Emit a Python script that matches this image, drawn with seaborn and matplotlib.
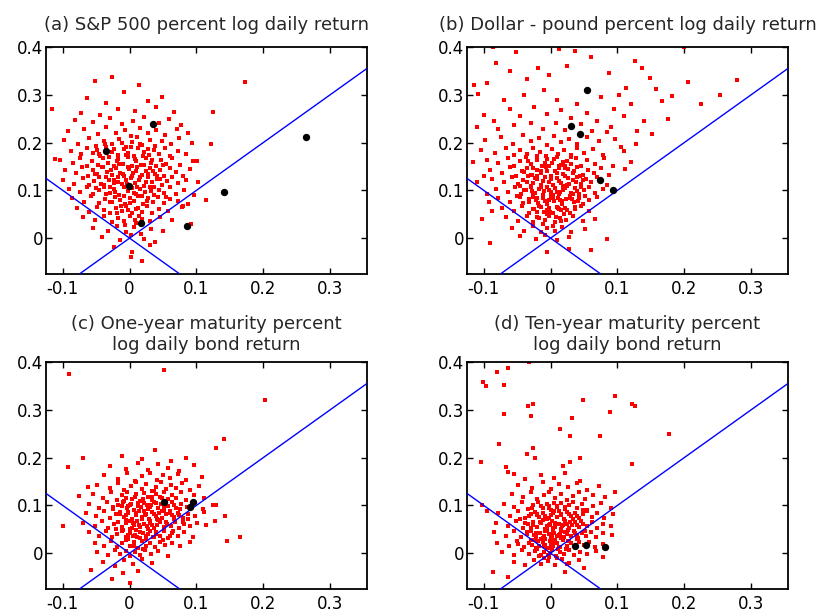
import matplotlib
matplotlib.use("Agg")
import matplotlib.pyplot as plt
import seaborn as sns

# axis setup (shared by all four panels)
x_range = (-0.125, 0.355)
y_range = (-0.075, 0.4)
x_ticks = [-0.1, 0, 0.1, 0.2, 0.3]
x_tick_labels = ["-0.1", "0", "0.1", "0.2", "0.3"]
y_ticks = [0, 0.1, 0.2, 0.3, 0.4]
y_tick_labels = ["0", "0.1", "0.2", "0.3", "0.4"]
guide_slopes = [1, -1]

panel_titles = [
    "(a) S&P 500 percent log daily return",
    "(b) Dollar - pound percent log daily return",
    "(c) One-year maturity percent\nlog daily bond return",
    "(d) Ten-year maturity percent\nlog daily bond return",
]

# highlighted points, in thousandths (x, y)
black_a = [(-35, 183), (35, 239), (-1, 110), (17, 31), (86, 26), (141, 96), (264, 212)]
black_b = [(54, 310), (31, 235), (44, 218), (74, 121), (93, 100)]
black_c = [(51, 107), (95, 108), (90, 97)]
black_d = [(37, 15), (53, 17), (81, 12)]

# red clouds, in thousandths (x, y)
cloud_a = [
    (-26, 338), (-51, 329), (14, 321), (-8, 305),
    (-63, 293), (27, 287), (-35, 282), (48, 296),
    (-72, 262), (-18, 271), (8, 266), (39, 275), (-44, 258), (66, 263),
    (-81, 248), (-55, 243), (-30, 251), (-12, 239), (5, 246), (21, 254), (44, 241), (59, 249), (77, 236),
    (-92, 224), (-68, 229), (-47, 218), (-36, 233), (-21, 221), (-7, 227), (2, 214), (15, 231), (28, 219),
    (40, 226), (53, 216), (71, 228), (88, 221),
    (-98, 205), (-77, 198), (-61, 210), (-50, 193), (-39, 203), (-27, 196), (-16, 208), (-6, 191), (3, 201),
    (11, 212), (19, 195), (30, 206), (38, 192), (49, 203), (62, 197), (74, 209), (93, 200),
    (-88, 183), (-72, 176), (-63, 188), (-54, 179), (-44, 172), (-35, 190), (-26, 181), (-18, 174), (-9, 186),
    (-2, 178), (6, 171), (13, 188), (21, 180), (29, 173), (36, 185), (44, 177), (53, 189), (61, 172), (72, 182),
    (85, 176),
    (-104, 163), (-85, 157), (-74, 168), (-64, 151), (-56, 162), (-47, 154), (-40, 167), (-32, 158), (-24, 151),
    (-17, 165), (-10, 156), (-3, 169), (4, 152), (10, 161), (17, 154), (25, 167), (32, 158), (40, 151), (47, 164),
    (55, 156), (64, 168), (76, 153), (95, 161),
    (-96, 143), (-80, 137), (-71, 148), (-62, 131), (-55, 142), (-48, 135), (-41, 149), (-34, 139), (-27, 132),
    (-20, 146), (-14, 137), (-8, 130), (-1, 144), (5, 136), (11, 149), (18, 133), (24, 141), (31, 147), (38, 134),
    (45, 143), (52, 131), (60, 146), (69, 138), (80, 131), (91, 145),
    (-99, 121), (-83, 114), (-70, 125), (-61, 112), (-53, 119), (-45, 127), (-38, 111), (-31, 122), (-24, 116),
    (-18, 128), (-11, 113), (-5, 121), (2, 126), (8, 115), (14, 122), (21, 110), (27, 127), (34, 118), (41, 124),
    (48, 112), (56, 120), (64, 128), (73, 115), (84, 122), (102, 118),
    (-90, 103), (-74, 96), (-63, 108), (-54, 92), (-46, 101), (-38, 106), (-30, 94), (-23, 103), (-16, 91),
    (-9, 107), (-3, 98), (4, 105), (10, 93), (16, 102), (23, 96), (30, 108), (37, 91), (44, 100), (52, 95),
    (60, 106), (70, 92), (82, 101), (96, 90),
    (-86, 84), (-68, 76), (-57, 88), (-46, 73), (-37, 82), (-29, 75), (-22, 87), (-14, 79), (-7, 71), (0, 85),
    (7, 77), (13, 89), (20, 72), (27, 83), (35, 76), (42, 86), (51, 74), (60, 82), (72, 78), (88, 71),
    (-78, 63), (-60, 55), (-48, 66), (-38, 58), (-29, 52), (-21, 64), (-12, 57), (-5, 68), (3, 53), (10, 61),
    (18, 55), (26, 67), (34, 52), (44, 62), (57, 56), (78, 65),
    (-70, 44), (-52, 37), (-39, 46), (-27, 33), (-17, 42), (-8, 36), (1, 47), (9, 32), (19, 41), (30, 35),
    (45, 44), (63, 38),
    (-55, 22), (-33, 15), (-19, 26), (-6, 12), (6, 23), (17, 8), (32, 19), (50, 14),
    (-41, 3), (-14, -4), (2, 6), (22, -2), (38, -8),
    (-24, -18), (4, -28), (31, -15), (2, -39), (19, -48),
    (-116, 270), (-111, 166), (125, 263), (122, 196), (101, 162), (114, 79), (172, 326), (92, 30), (80, 68),
    # denser middle
    (-37, 196), (-24, 187), (-11, 199), (2, 190), (15, 197), (27, 186), (-45, 176), (-31, 169), (-19, 162),
    (-6, 174), (8, 166), (20, 172), (33, 164), (-40, 149), (-28, 143), (-16, 156), (-3, 148), (9, 141),
    (22, 153), (35, 141), (-36, 128), (-23, 122), (-10, 134), (4, 131), (16, 128), (28, 135), (41, 129),
    (-43, 113), (-30, 106), (-18, 118), (-4, 114), (11, 108), (24, 117), (37, 106), (-35, 92), (-22, 97),
    (-9, 88), (6, 95), (19, 88), (32, 99), (-26, 76), (-13, 68), (0, 74), (13, 64), (26, 78), (-19, 52),
    (-2, 58), (14, 46), (-7, 28), (8, 38), (46, 123), (50, 154), (-52, 134), (-50, 104), (55, 86), (-48, 184),
]

cloud_b = [
    (-52, 389), (-82, 366), (-19, 357), (-2, 342), (127, 371), (137, 356), (148, 335), (113, 314), (158, 313),
    (205, 326), (279, 330), (253, 300), (225, 280), (181, 298), (166, 288), (176, 250), (152, 217), (139, 246),
    (128, 198), (200, 399), (-86, 399), (12, 396), (36, 392), (-114, 320), (-108, 302), (-95, 325), (-61, 349),
    (-36, 333), (24, 361), (60, 380), (87, 345), (102, 300), (-70, 290), (-40, 300), (-10, 310), (10, 290),
    (40, 280), (75, 296), (95, 270), (120, 280), (-99, 258), (-85, 245), (-60, 270), (-45, 255), (-25, 275),
    (-5, 260), (15, 268), (30, 252), (55, 262), (70, 245), (90, 232), (110, 255), (-110, 232), (-78, 228),
    (-55, 236), (-30, 240), (-12, 228), (8, 242), (22, 226), (45, 238), (62, 225), (84, 222), (130, 225),
    (105, 190), (120, 160), (112, 145),
    (-98, 205), (-74, 212), (-56, 198), (-42, 216), (-30, 203), (-17, 209), (-6, 195), (5, 214), (16, 201),
    (28, 207), (40, 196), (54, 211), (72, 203), (96, 208),
    (-104, 185), (-83, 178), (-67, 189), (-55, 173), (-45, 184), (-35, 176), (-26, 189), (-16, 180), (-7, 172),
    (2, 187), (11, 177), (20, 185), (30, 174), (39, 188), (50, 179), (63, 186), (78, 175), (110, 182),
    (-95, 164), (-78, 157), (-64, 168), (-54, 152), (-45, 161), (-37, 169), (-29, 155), (-21, 163), (-13, 151),
    (-5, 166), (2, 158), (9, 170), (16, 153), (24, 162), (31, 155), (38, 167), (46, 152), (55, 163), (66, 156),
    (80, 168), (93, 151), (-116, 160),
    (-90, 143), (-72, 136), (-60, 148), (-51, 131), (-43, 140), (-35, 147), (-28, 133), (-21, 142), (-14, 136),
    (-7, 149), (0, 131), (6, 141), (12, 147), (19, 134), (26, 144), (33, 137), (40, 148), (48, 132), (56, 143),
    (65, 136), (76, 147), (88, 133), (-100, 131), (-20, 130), (22, 150),
    (-88, 124), (-70, 117), (-58, 128), (-49, 113), (-41, 121), (-34, 129), (-27, 115), (-20, 124), (-14, 111),
    (-8, 127), (-2, 118), (4, 112), (9, 125), (15, 116), (21, 129), (27, 113), (33, 122), (39, 128), (46, 114),
    (53, 123), (61, 117), (70, 128), (84, 112), (-110, 118), (-30, 110), (0, 129), (18, 110), (44, 130),
    (-82, 103), (-64, 96), (-53, 108), (-44, 92), (-37, 101), (-30, 107), (-23, 94), (-17, 103), (-11, 91),
    (-5, 108), (0, 97), (6, 104), (12, 92), (18, 101), (24, 109), (30, 95), (36, 104), (43, 92), (50, 100),
    (58, 108), (67, 94), (78, 103), (-95, 92), (-10, 99), (14, 97), (-28, 98), (40, 98), (3, 91),
    (-78, 84), (-61, 76), (-50, 88), (-41, 73), (-33, 81), (-26, 87), (-19, 74), (-12, 83), (-6, 71), (0, 88),
    (5, 78), (11, 85), (17, 72), (23, 81), (29, 89), (35, 75), (42, 84), (49, 72), (57, 80), (70, 86),
    (-92, 76), (-3, 80), (14, 79), (-22, 80), (32, 82),
    (-72, 64), (-54, 57), (-43, 68), (-33, 53), (-25, 61), (-17, 67), (-10, 55), (-3, 63), (3, 52), (9, 66),
    (15, 58), (22, 64), (29, 53), (37, 61), (46, 67), (58, 56), (-88, 57), (-6, 58), (12, 61), (-20, 54),
    (-66, 44), (-49, 36), (-36, 46), (-26, 33), (-17, 42), (-9, 37), (-2, 47), (6, 34), (14, 43), (23, 38),
    (33, 46), (48, 35), (-103, 40), (66, 41),
    (-57, 22), (-40, 15), (-27, 25), (-15, 12), (-5, 21), (6, 14), (17, 24), (30, 13), (52, 19),
    (-45, 4), (-22, -2), (-8, 7), (10, -4), (28, 2), (85, -1),
    (-90, -11), (-5, -28), (28, -22), (60, -25),
    # denser middle
    (-34, 162), (-20, 171), (-8, 158), (5, 166), (18, 160), (30, 170), (-40, 138), (-27, 146), (-15, 140),
    (-2, 152), (10, 136), (22, 147), (35, 140), (-36, 118), (-24, 126), (-11, 120), (1, 124), (13, 119),
    (26, 125), (38, 117), (-40, 100), (-27, 94), (-14, 106), (-2, 101), (9, 96), (21, 104), (33, 92),
    (46, 106), (-33, 76), (-20, 84), (-8, 78), (4, 84), (17, 77), (29, 84), (41, 77), (-27, 60), (-14, 66),
    (-1, 55), (11, 63), (24, 59), (37, 66), (-20, 44), (-6, 50), (8, 45), (20, 50), (-11, 30), (4, 26),
    (16, 35), (-30, 132), (48, 122), (52, 88), (-46, 110), (-45, 86), (25, 112), (-5, 140), (12, 150),
]

cloud_c = [
    (-12, 204), (18, 198), (38, 215), (62, 193), (84, 200),
    (-30, 183), (-5, 177), (12, 189), (28, 175), (43, 186), (58, 179), (74, 172), (96, 184),
    (-38, 163), (-18, 156), (-4, 168), (8, 152), (19, 161), (30, 167), (41, 154), (50, 163), (61, 158),
    (72, 166), (85, 153), (108, 160),
    (-48, 143), (-30, 136), (-18, 147), (-8, 132), (2, 141), (10, 148), (18, 135), (25, 144), (33, 131),
    (40, 139), (47, 148), (54, 134), (62, 142), (70, 136), (79, 147), (90, 133), (104, 141), (-62, 138),
    (-55, 124), (-40, 115), (-28, 127), (-19, 112), (-11, 121), (-4, 128), (3, 114), (9, 123), (15, 110),
    (21, 126), (27, 117), (33, 111), (39, 124), (45, 118), (51, 129), (57, 113), (63, 122), (70, 115),
    (77, 127), (85, 112), (96, 121), (112, 116), (-8, 110), (36, 130),
    (-60, 103), (-45, 95), (-34, 107), (-25, 92), (-17, 101), (-10, 108), (-4, 94), (2, 103), (7, 91),
    (12, 106), (17, 97), (22, 104), (27, 92), (32, 100), (37, 108), (42, 95), (47, 103), (52, 91), (58, 99),
    (64, 107), (70, 94), (77, 102), (86, 96), (97, 108), (110, 93), (125, 101), (-3, 99), (30, 96),
    (-65, 84), (-50, 77), (-38, 88), (-29, 73), (-21, 82), (-14, 87), (-8, 75), (-2, 84), (4, 71), (9, 80),
    (14, 88), (19, 76), (24, 83), (29, 72), (34, 86), (39, 78), (44, 84), (49, 73), (54, 81), (60, 88),
    (66, 76), (72, 84), (80, 73), (88, 82), (98, 77), (112, 86), (-6, 79), (21, 89), (41, 71), (63, 80),
    (-70, 63), (-52, 57), (-41, 68), (-32, 53), (-24, 61), (-17, 66), (-11, 55), (-5, 63), (1, 51), (6, 59),
    (11, 67), (16, 54), (21, 62), (26, 56), (31, 68), (36, 52), (41, 60), (46, 65), (51, 54), (56, 62),
    (62, 57), (68, 66), (74, 53), (82, 61), (90, 56), (101, 64), (115, 58), (14, 60), (33, 58), (-1, 68),
    (-60, 44), (-45, 36), (-35, 47), (-26, 33), (-19, 41), (-12, 46), (-6, 34), (0, 43), (5, 37), (10, 48),
    (15, 31), (20, 42), (25, 36), (30, 46), (35, 33), (40, 41), (46, 37), (52, 47), (58, 32), (64, 42),
    (72, 36), (82, 45), (95, 34), (8, 39), (27, 40), (-3, 38),
    (-52, 22), (-38, 15), (-28, 26), (-19, 12), (-12, 21), (-5, 27), (1, 14), (7, 23), (13, 11), (19, 25),
    (25, 16), (31, 22), (38, 13), (45, 24), (53, 17), (63, 21), (76, 14), (90, 23),
    (-48, 3), (-33, -4), (-22, 7), (-14, -2), (-6, 5), (1, -6), (8, 3), (15, -3), (23, 6), (32, -1),
    (42, 4), (58, -5),
    (-40, -18), (-22, -26), (-8, -14), (5, -22), (18, -12), (34, -20),
    (-27, -55), (0, -62), (-10, -42), (12, -38),
    (-90, 375), (51, 383), (203, 321), (141, 238), (130, 221), (-92, 180), (-69, 199), (-99, 57), (165, 33),
    (145, 25), (143, 77), (130, 100), (-75, 120), (-58, -35), (128, 67),
    # denser middle
    (-5, 115), (8, 118), (20, 114), (33, 118), (48, 115), (-12, 98), (0, 101), (13, 99), (26, 101), (39, 104),
    (52, 97), (66, 100), (-15, 82), (-3, 86), (10, 84), (23, 79), (36, 82), (48, 88), (61, 85), (74, 80),
    (-18, 66), (-6, 70), (5, 63), (18, 71), (30, 64), (43, 70), (55, 66), (67, 71), (80, 66), (-10, 48),
    (3, 52), (16, 44), (28, 50), (40, 45), (52, 51), (65, 46), (-2, 30), (11, 34), (24, 29), (37, 34),
    (50, 27), (6, 14), (20, 9), (60, 35), (75, 92), (-25, 96), (-20, 50), (87, 72),
]

cloud_d = [
    (-15, 164), (5, 158), (22, 168), (44, 152), (-38, 155),
    (-48, 143), (-28, 137), (-12, 148), (0, 134), (12, 145), (26, 139), (40, 147), (55, 133), (73, 141),
    (-58, 124), (-42, 117), (-30, 128), (-20, 113), (-10, 122), (-2, 127), (7, 115), (15, 124), (24, 111),
    (33, 120), (43, 128), (52, 114), (64, 122), (82, 118),
    (-70, 103), (-54, 96), (-43, 107), (-34, 92), (-26, 101), (-19, 108), (-12, 94), (-6, 103), (0, 91),
    (5, 106), (10, 97), (16, 104), (22, 92), (28, 100), (34, 108), (40, 95), (47, 103), (55, 91), (63, 99),
    (75, 106), (90, 94), (-2, 99),
    (-78, 84), (-60, 77), (-48, 88), (-38, 73), (-30, 82), (-23, 87), (-17, 75), (-11, 84), (-5, 71), (0, 80),
    (5, 88), (10, 76), (15, 83), (20, 72), (25, 86), (30, 78), (36, 84), (42, 73), (48, 81), (55, 88),
    (62, 76), (70, 84), (80, 73), (93, 82), (-2, 74), (12, 89), (-20, 79), (33, 72),
    (-82, 63), (-64, 57), (-52, 68), (-42, 53), (-34, 61), (-27, 66), (-20, 55), (-14, 63), (-8, 51), (-3, 59),
    (2, 67), (7, 54), (12, 62), (17, 56), (22, 68), (27, 52), (32, 60), (37, 65), (43, 54), (49, 62),
    (55, 57), (62, 66), (70, 53), (79, 61), (90, 56), (-11, 69), (4, 52), (25, 61), (-30, 52), (46, 68),
    (-1, 62), (15, 51),
    (-85, 44), (-66, 36), (-54, 47), (-44, 33), (-36, 41), (-29, 46), (-22, 34), (-16, 43), (-10, 37), (-5, 48),
    (0, 31), (5, 42), (10, 36), (15, 46), (20, 33), (25, 41), (30, 37), (35, 47), (41, 32), (47, 42),
    (53, 36), (60, 45), (68, 34), (78, 43), (92, 38), (-3, 40), (12, 39), (-25, 39), (22, 45), (-12, 31),
    (39, 39), (2, 35),
    (-80, 22), (-62, 15), (-50, 26), (-40, 12), (-32, 21), (-25, 27), (-18, 14), (-12, 23), (-6, 11), (-1, 25),
    (4, 16), (9, 22), (14, 13), (19, 27), (24, 15), (30, 21), (36, 12), (43, 24), (50, 17), (58, 23),
    (67, 13), (78, 20), (-8, 18), (6, 28), (-28, 17), (26, 25), (1, 19), (-15, 29),
    (-72, 3), (-55, -4), (-43, 7), (-33, -2), (-24, 5), (-17, -6), (-10, 3), (-4, -3), (2, 6), (8, -5),
    (14, 2), (20, -2), (27, 7), (35, -4), (44, 3), (55, -1), (68, 5), (-1, 1), (-20, 8), (11, 8),
    (-55, -18), (-38, -24), (-25, -14), (-14, -22), (-4, -16), (6, -25), (17, -13), (28, -20), (42, -15),
    (-10, -11),
    (-63, -50), (-86, -39), (21, -39), (50, -30), (79, -9), (24, -23),
    (-32, 400), (-101, 358), (-97, 349), (-80, 379), (-63, 387), (-70, 353), (-69, 291), (-34, 308),
    (-27, 312), (-29, 287), (49, 321), (97, 328), (89, 296), (122, 312), (126, 308), (32, 283), (14, 259),
    (29, 245), (74, 245), (177, 249), (122, 187), (-77, 228), (-27, 220), (-35, 208), (-24, 200),
    (-104, 191), (44, 200), (29, 191), (18, 182), (-67, 180), (-63, 170), (-55, 166), (97, 128),
    (-102, 100), (-95, 88),
    # denser middle
    (-28, 95), (-15, 99), (-3, 95), (9, 99), (21, 96), (-33, 78), (-21, 83), (-8, 77), (3, 85), (15, 79),
    (27, 82), (39, 78), (-38, 63), (-26, 58), (-16, 66), (-5, 57), (6, 64), (18, 59), (29, 65), (40, 58),
    (-35, 45), (-22, 42), (-9, 47), (3, 44), (14, 41), (26, 48), (37, 43), (-30, 28), (-19, 25), (-8, 30),
    (4, 24), (16, 31), (28, 26), (40, 30), (-22, 11), (-10, 14), (1, 10), (12, 13), (23, 9), (-2, -9),
    (10, -10), (-14, -3), (-45, 72), (48, 91), (-48, 20), (52, 47),
]

panels = [
    (cloud_a, black_a),
    (cloud_b, black_b),
    (cloud_c, black_c),
    (cloud_d, black_d),
]


def split(points):
    return [p[0] / 1000 for p in points], [p[1] / 1000 for p in points]


sns.set_theme(style="white", rc={
    "axes.edgecolor": "black",
    "axes.linewidth": 1.3,
    "xtick.direction": "in",
    "ytick.direction": "in",
    "xtick.bottom": True,
    "xtick.top": True,
    "ytick.left": True,
    "ytick.right": True,
    "xtick.major.size": 4,
    "ytick.major.size": 4,
    "xtick.major.width": 1,
    "ytick.major.width": 1,
    "xtick.color": "black",
    "ytick.color": "black",
    "xtick.major.pad": 4,
    "ytick.major.pad": 2,
    "axes.unicode_minus": False,
})
plt.rcParams["font.family"] = ["DejaVu Sans"]

fig, axes = plt.subplots(2, 2, figsize=(8.32, 6.16), dpi=100)
fig.subplots_adjust(left=0.0553, right=0.947, bottom=0.0438, top=0.9237, wspace=0.312, hspace=0.388)

for i, (ax, (cloud, black)) in enumerate(zip(axes.flat, panels)):
    cx, cy = split(cloud)
    bx, by = split(black)
    sns.scatterplot(x=cx, y=cy, ax=ax, color="#ff0000", marker="s", s=7,
                    linewidth=0, legend=False, zorder=2)
    for slope in guide_slopes:
        ax.axline((0, 0), slope=slope, color="#0000ff", linewidth=1, zorder=3)
    sns.scatterplot(x=bx, y=by, ax=ax, color="black", marker="o", s=28,
                    linewidth=0, legend=False, zorder=4)

    ax.set_xlim(*x_range)
    ax.set_ylim(*y_range)
    ax.set_xticks(x_ticks)
    ax.set_xticklabels(x_tick_labels)
    ax.set_yticks(y_ticks)
    ax.set_yticklabels(y_tick_labels)
    ax.tick_params(labelsize=12)
    ax.set_title(panel_titles[i], fontsize=13, pad=12 if i < 2 else 9, linespacing=1.2)

fig.savefig("out.png", dpi=100)
